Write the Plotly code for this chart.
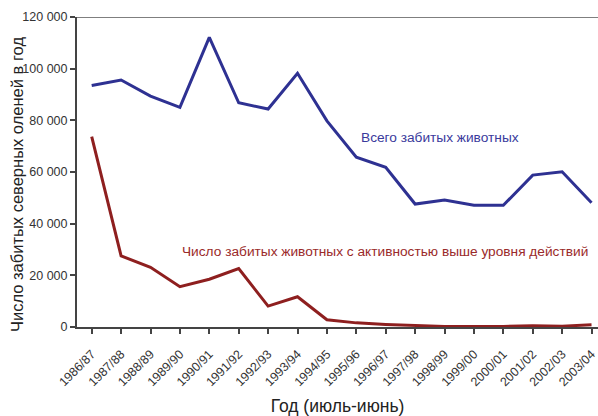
import plotly.graph_objects as go

years = ["1986/87", "1987/88", "1988/89", "1989/90", "1990/91", "1991/92",
         "1992/93", "1993/94", "1994/95", "1995/96", "1996/97", "1997/98",
         "1998/99", "1999/00", "2000/01", "2001/02", "2002/03", "2003/04"]
total_killed = [93500, 95600, 89400, 85000, 112100, 86800, 84400, 98200, 79800,
                65700, 61800, 47600, 49200, 47100, 47100, 58800, 60100, 48100]
above_action = [73700, 27500, 23100, 15600, 18500, 22600, 8100, 11700, 2800,
                1600, 1000, 500, 200, 200, 200, 500, 300, 900]
y_ticks = [0, 20000, 40000, 60000, 80000, 100000, 120000]
y_tick_text = ["0", "20 000", "40 000", "60 000", "80 000", "100 000", "120 000"]

BLUE = "#2e3192"
RED = "#8e1f1f"
FONT = "Liberation Sans, Arial, sans-serif"

x_idx = list(range(len(years)))

fig = go.Figure()
fig.add_trace(go.Scatter(x=x_idx, y=total_killed, mode="lines",
                         line=dict(color=BLUE, width=3), hoverinfo="skip"))
fig.add_trace(go.Scatter(x=x_idx, y=above_action, mode="lines",
                         line=dict(color=RED, width=3), hoverinfo="skip"))

fig.add_annotation(x=9.1, y=73500, text="Всего забитых животных", showarrow=False,
                   xanchor="left", yanchor="middle",
                   font=dict(family=FONT, size=13.7, color="#3a3a9c"))
fig.add_annotation(x=3.0, y=29100,
                   text="Число забитых животных с активностью выше уровня действий",
                   showarrow=False, xanchor="left", yanchor="middle",
                   font=dict(family=FONT, size=13.7, color="#9a2a2a"))

# vertical axis title
fig.add_annotation(xref="paper", yref="paper", x=-0.114, y=0.46,
                   text="Число забитых северных оленей в год", textangle=-90,
                   showarrow=False, xanchor="center", yanchor="middle",
                   font=dict(family=FONT, size=16.5, color="#222222"))

# top frame line
fig.add_shape(type="line", xref="paper", yref="y", x0=0, x1=1, y0=120000, y1=120000,
              line=dict(color="#555555", width=1.5))

fig.update_layout(
    width=598, height=416,
    margin=dict(l=77, r=0, t=17, b=89),
    paper_bgcolor="white", plot_bgcolor="white",
    showlegend=False,
    font=dict(family=FONT, color="#333333"),
)
fig.update_xaxes(
    range=[-0.5, 17.22],
    tickmode="array", tickvals=x_idx, ticktext=years,
    tickangle=-45, tickfont=dict(size=12.5, color="#333333"),
    ticks="outside", ticklen=5, tickcolor="#444444", tickwidth=1.5,
    tickson="boundaries", ticklabelstandoff=8, ticklabeloverflow="allow",
    showline=True, linecolor="#444444", linewidth=2,
    showgrid=False, zeroline=False,
    title=dict(text="Год (июль-июнь)", font=dict(size=17.5, color="#222222"), standoff=16),
)
fig.update_yaxes(
    range=[0, 120000],
    tickmode="array", tickvals=y_ticks, ticktext=y_tick_text,
    tickfont=dict(size=12.5, color="#333333"),
    ticks="outside", ticklen=5, tickcolor="#444444", tickwidth=1.5,
    showline=True, linecolor="#444444", linewidth=2,
    showgrid=False, zeroline=False,
)

fig.write_html("out.html")
